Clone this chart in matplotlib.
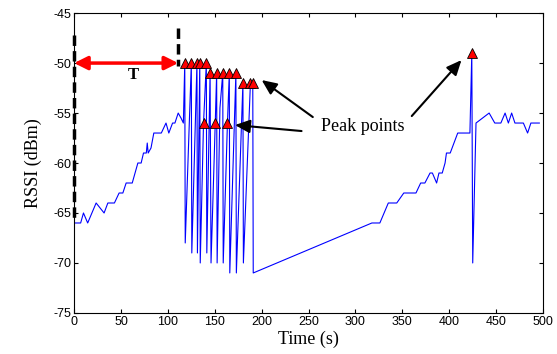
import numpy as np
import matplotlib
matplotlib.use("Agg")
import matplotlib.pyplot as plt

plt.rcParams['axes.unicode_minus'] = False

# RSSI trace
time_s = [1, 7, 10, 14.5, 23.5, 32, 36, 43, 48, 52, 55.5, 62, 68, 71.5, 74, 77, 78, 79,
          82, 85, 93, 98, 101, 105, 107.5, 111, 114, 116.5,
          118, 118.5, 125, 125.5, 131, 131.5, 134, 134.5, 138, 141, 141.5, 145, 146,
          150.5, 152, 152.5, 155.5, 158.5, 159, 163.5, 165.5, 166, 172.5, 173,
          180, 180.5, 188, 190.5, 191,
          317.5, 326, 335, 344, 351.5, 364.5, 369.5, 374, 379.5, 382, 386.5, 389,
          392.5, 395.5, 397, 401, 405, 409, 422, 424, 425, 428.5, 442.5, 448.5,
          455, 459.5, 463, 466.5, 470, 479, 483.5, 487, 496]
rssi = [-66, -66, -65, -66, -64, -65, -64, -64, -63, -63, -62, -62, -60, -60, -59, -59, -58, -59,
        -58.5, -57, -57, -56, -57, -56, -56, -55, -55.5, -56,
        -50, -68, -50, -69, -50, -69, -50, -70, -56, -50, -69, -51, -70,
        -56, -51, -70, -54.5, -51, -70, -56, -51, -71, -51, -71,
        -52, -70, -52, -52, -71,
        -66, -66, -64, -64, -63, -63, -62, -62, -61, -61, -62, -61,
        -61, -60, -59, -59, -58, -57, -57, -49, -70, -56, -55, -56,
        -56, -55, -56, -55, -56, -56, -57, -56, -56]

# peak points (triangles)
peak_t = [118, 125, 131, 134, 141, 138, 145, 150.5, 152, 158.5, 163.5, 165.5, 172.5,
          180, 188, 190.5, 424]
peak_v = [-50, -50, -50, -50, -50, -56, -51, -56, -51, -51, -56, -51, -51,
          -52, -52, -52, -49]

fig = plt.figure(figsize=(5.57, 3.54), dpi=100)
ax = fig.add_axes([0.133, 0.116, 0.842, 0.847])

ax.plot(time_s, rssi, color='blue', lw=0.8)
ax.plot(peak_t, peak_v, ls='none', marker='^', ms=7, mfc='red', mec='black', mew=0.6)

# dashed markers of T
ax.plot([0, 0], [-47.2, -65.8], color='black', ls=(0, (3, 1.5)), lw=2.5, clip_on=False)
ax.plot([111, 111], [-46.5, -50.3], color='black', ls=(0, (3, 1.5)), lw=2.5)
ax.annotate('', xy=(0, -50), xytext=(111, -50),
            arrowprops=dict(arrowstyle='<|-|>,head_length=0.8,head_width=0.4',
                            color='red', lw=2.5, shrinkA=0, shrinkB=0))
ax.text(63, -51.2, 'T', family='Liberation Serif', weight='bold', fontsize=12,
        ha='center', va='center')

# peak annotations
ax.text(308, -56.3, 'Peak points', family='Liberation Serif', fontsize=13,
        ha='center', va='center')
arrow = dict(arrowstyle='-|>,head_length=0.9,head_width=0.4', color='black',
             lw=1.5, shrinkA=0, shrinkB=0)
ax.annotate('', xy=(200, -51.7), xytext=(254.5, -55.4), arrowprops=arrow)
ax.annotate('', xy=(413, -49.7), xytext=(360, -55.3), arrowprops=arrow)
ax.annotate('', xy=(171.5, -56.2), xytext=(242.5, -56.8), arrowprops=arrow)

ax.set_xlim(0, 500)
ax.set_ylim(-75, -45)
ax.set_xticks(np.arange(0, 501, 50))
ax.set_yticks(np.arange(-75, -44, 5))
ax.tick_params(direction='in', top=True, right=True, length=3, labelsize=9, pad=2)
for lab in ax.get_xticklabels() + ax.get_yticklabels():
    lab.set_family('Liberation Sans')
ax.set_xlabel('Time (s)', family='Liberation Serif', fontsize=13, labelpad=2)
ax.set_ylabel('RSSI (dBm)', family='Liberation Serif', fontsize=13, labelpad=8)

fig.savefig('out.png', dpi=100)
